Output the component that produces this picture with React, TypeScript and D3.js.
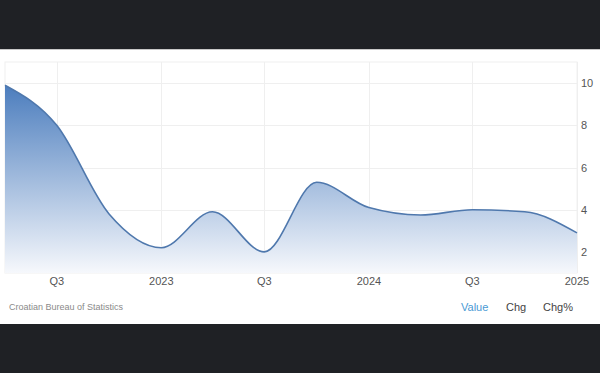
import React from "react";
import * as d3 from "d3";

const dates = [
  "2022-04-01", "2022-07-01", "2022-10-01", "2023-01-01",
  "2023-04-01", "2023-07-01", "2023-10-01", "2024-01-01",
  "2024-04-01", "2024-07-01", "2024-10-01", "2025-01-01",
];
const values = [9.9, 8.0, 3.8, 2.2, 3.9, 2.0, 5.3, 4.1, 3.75, 4.0, 3.9, 2.9];
const xTickDates = ["2022-07-01", "2023-01-01", "2023-07-01", "2024-01-01", "2024-07-01", "2025-01-01"];
const xTickLabels = ["Q3", "2023", "Q3", "2024", "Q3", "2025"];
const yTicks = [2, 4, 6, 8, 10];
const sourceText = "Croatian Bureau of Statistics";
const buttons = ["Value", "Chg", "Chg%"];

const W = 600;
const H = 373;
const left = 5;
const right = 577;
const top = 62;
const bottom = 273;
const FONT = "'Liberation Sans', Arial, sans-serif";

export default function App() {
  const parse = d3.utcParse("%Y-%m-%d");
  const data = dates.map((d, i) => ({ date: parse(d) as Date, value: values[i] }));
  const x = d3
    .scaleUtc()
    .domain([parse(dates[0]) as Date, parse(dates[dates.length - 1]) as Date])
    .range([left, right]);
  const y = d3.scaleLinear().domain([1, 11]).range([bottom, top]);

  const line = d3
    .line<{ date: Date; value: number }>()
    .x((d) => x(d.date))
    .y((d) => y(d.value))
    .curve(d3.curveMonotoneX);
  const area = d3
    .area<{ date: Date; value: number }>()
    .x((d) => x(d.date))
    .y0(bottom)
    .y1((d) => y(d.value))
    .curve(d3.curveMonotoneX);

  const xTicks = xTickDates.map((d) => parse(d) as Date);

  return (
    <svg
      width={W}
      height={H}
      style={{ position: "absolute", left: 0, top: 0, display: "block" }}
      fontFamily={FONT}
    >
      <defs>
        <linearGradient id="fillGrad" gradientUnits="userSpaceOnUse" x1={0} y1={y(10)} x2={0} y2={bottom}>
          <stop offset="0" stopColor="#4a7cbd" />
          <stop offset="1" stopColor="#f6f8fc" />
        </linearGradient>
      </defs>
      <rect x={0} y={0} width={W} height={H} fill="#ffffff" />
      <rect x={0} y={0} width={W} height={49} fill="#1f2125" />
      <rect x={0} y={49} width={W} height={1} fill="#c8c8c8" />
      <rect x={0} y={324} width={W} height={H - 324} fill="#1f2125" />

      {/* plot border */}
      <rect x={left} y={top} width={right - left} height={bottom - top} fill="none" stroke="#f0f0f0" strokeWidth={1} />

      {/* grid */}
      {yTicks.map((t) => (
        <line key={"gy" + t} x1={left} x2={right} y1={Math.round(y(t)) + 0.5} y2={Math.round(y(t)) + 0.5} stroke="#efefef" />
      ))}
      {xTicks.map((t, i) => (
        <line key={"gx" + i} x1={Math.round(x(t)) + 0.5} x2={Math.round(x(t)) + 0.5} y1={top} y2={bottom} stroke="#efefef" />
      ))}

      <path d={area(data) || ""} fill="url(#fillGrad)" />
      <path d={line(data) || ""} fill="none" stroke="#4f78ad" strokeWidth={1.6} />

      {/* y labels */}
      {yTicks.map((t) => (
        <text key={"yl" + t} x={581} y={y(t) + 4} fontSize={11} fill="#555">
          {t}
        </text>
      ))}
      {/* x labels */}
      {xTicks.map((t, i) => (
        <text key={"xl" + i} x={x(t)} y={285} fontSize={11} fill="#555" textAnchor={i === xTicks.length - 1 ? "middle" : "middle"}>
          {xTickLabels[i]}
        </text>
      ))}

      <text x={9} y={310} fontSize={9} fill="#8a8a8a">
        {sourceText}
      </text>
      <text x={461} y={311} fontSize={11} fill="#4a9ad4">{buttons[0]}</text>
      <text x={506} y={311} fontSize={11} fill="#444">{buttons[1]}</text>
      <text x={543} y={311} fontSize={11} fill="#444">{buttons[2]}</text>
    </svg>
  );
}
